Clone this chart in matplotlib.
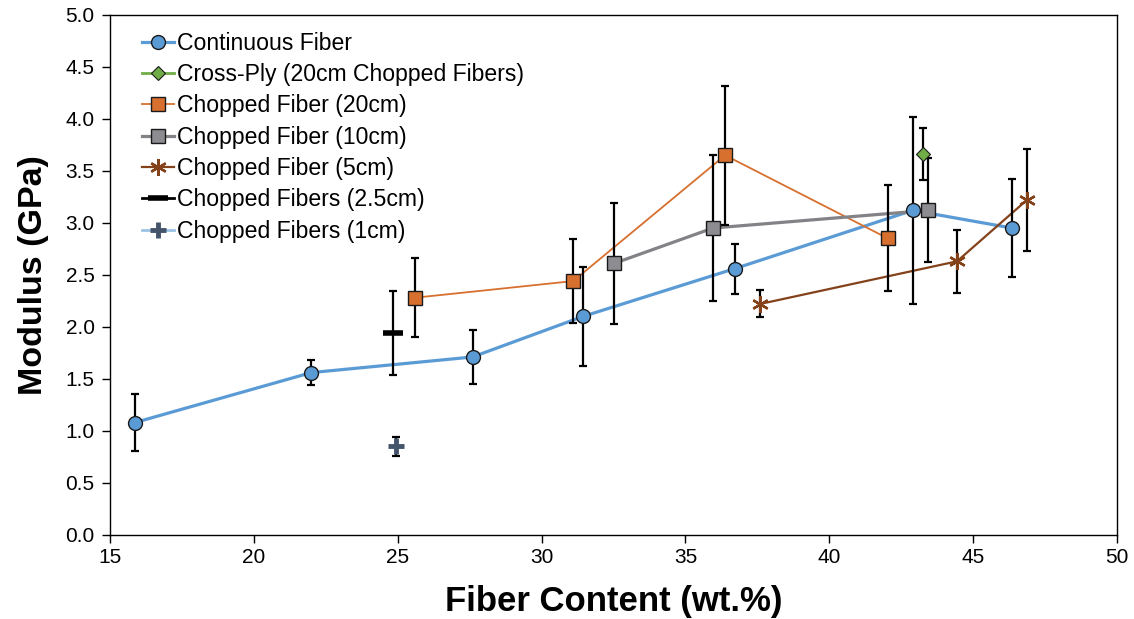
import matplotlib
matplotlib.use("Agg")
import matplotlib.pyplot as plt
from matplotlib.lines import Line2D

plt.rcParams['font.family'] = ['Liberation Sans', 'DejaVu Sans']

# Continuous fiber
cont_x = [15.87, 22.0, 27.6, 31.44, 36.72, 42.9, 46.35]
cont_y = [1.08, 1.56, 1.71, 2.10, 2.56, 3.12, 2.95]
cont_err = [0.27, 0.12, 0.26, 0.48, 0.24, 0.90, 0.47]

# Cross-ply (20cm chopped fibers)
cross_x = [43.25]
cross_y = [3.66]
cross_err = [0.25]

# Chopped fiber 20cm
c20_x = [25.6, 31.1, 36.38, 42.04]
c20_y = [2.28, 2.44, 3.65, 2.85]
c20_err = [0.38, 0.40, 0.67, 0.51]

# Chopped fiber 10cm
c10_x = [32.52, 35.96, 43.43]
c10_y = [2.61, 2.95, 3.12]
c10_err = [0.58, 0.70, 0.50]

# Chopped fiber 5cm
c5_x = [37.6, 44.44, 46.87]
c5_y = [2.22, 2.63, 3.22]
c5_err = [0.13, 0.30, 0.49]

# Chopped fibers 2.5cm
c25_x = [24.84]
c25_y = [1.94]
c25_err = [0.40]

# Chopped fibers 1cm
c1_x = [24.94]
c1_y = [0.85]
c1_err = [0.095]

series = [
    # x, y, err, label, line color, line width, marker, msize, face, edge, mew
    (cont_x, cont_y, cont_err, 'Continuous Fiber', '#5B9BD5', 2.3, 'o', 10, '#5B9BD5', '#1a1a1a', 1.0),
    (cross_x, cross_y, cross_err, 'Cross-Ply (20cm Chopped Fibers)', '#70AD47', 2.0, 'D', 7, '#70AD47', '#1a1a1a', 0.8),
    (c20_x, c20_y, c20_err, 'Chopped Fiber (20cm)', '#D7702F', 1.3, 's', 9.5, '#D7702F', '#1a1a1a', 1.0),
    (c10_x, c10_y, c10_err, 'Chopped Fiber (10cm)', '#838387', 2.3, 's', 9.5, '#8C8C91', '#1a1a1a', 1.0),
    (c5_x, c5_y, c5_err, 'Chopped Fiber (5cm)', '#84421B', 1.6, (6, 2, 0), 12, '#84421B', '#84421B', 1.7),
    (c25_x, c25_y, c25_err, 'Chopped Fibers (2.5cm)', '#000000', 2.0, '_', 14, '#000000', '#000000', 4.0),
    (c1_x, c1_y, c1_err, 'Chopped Fibers (1cm)', '#9DC3E6', 2.0, '+', 12, '#44546A', '#44546A', 3.5),
]

fig = plt.figure(figsize=(11.34, 6.19), dpi=100)
ax = fig.add_axes([0.097, 0.136, 0.888, 0.840])

handles = []
for x, y, err, label, lc, lw, mk, ms, fc, ec, mew in series:
    if len(x) > 1:
        ax.plot(x, y, color=lc, lw=lw, zorder=2)
    ax.errorbar(x, y, yerr=err, fmt='none', ecolor='black', elinewidth=1.6,
                capsize=3, capthick=1.6, zorder=3)
    ax.plot(x, y, linestyle='none', marker=mk, markersize=ms,
            markerfacecolor=fc, markeredgecolor=ec, markeredgewidth=mew, zorder=4)
    handles.append(Line2D([], [], color=lc, lw=lw, marker=mk, markersize=ms,
                          markerfacecolor=fc, markeredgecolor=ec, markeredgewidth=mew,
                          label=label))

ax.set_xlim(15, 50)
ax.set_ylim(0, 5)
ax.set_xticks(range(15, 51, 5))
ax.set_yticks([i * 0.5 for i in range(11)])
ax.set_yticklabels([f'{i * 0.5:.1f}' for i in range(11)])
ax.tick_params(direction='out', length=6, width=1, labelsize=15, colors='black')
ax.tick_params(axis='y', pad=5)
for s in ax.spines.values():
    s.set_linewidth(1.0)

ax.set_xlabel('Fiber Content (wt.%)', fontsize=25, fontweight='bold', labelpad=13)
ax.set_ylabel('Modulus (GPa)', fontsize=24.5, fontweight='bold', labelpad=12)

ax.legend(handles=handles, loc='upper left', bbox_to_anchor=(0.018, 0.994),
          frameon=False, fontsize=16.6, handlelength=1.4, handletextpad=0.1,
          labelspacing=0.36, borderaxespad=0.2)

fig.savefig('out.png', dpi=100)
